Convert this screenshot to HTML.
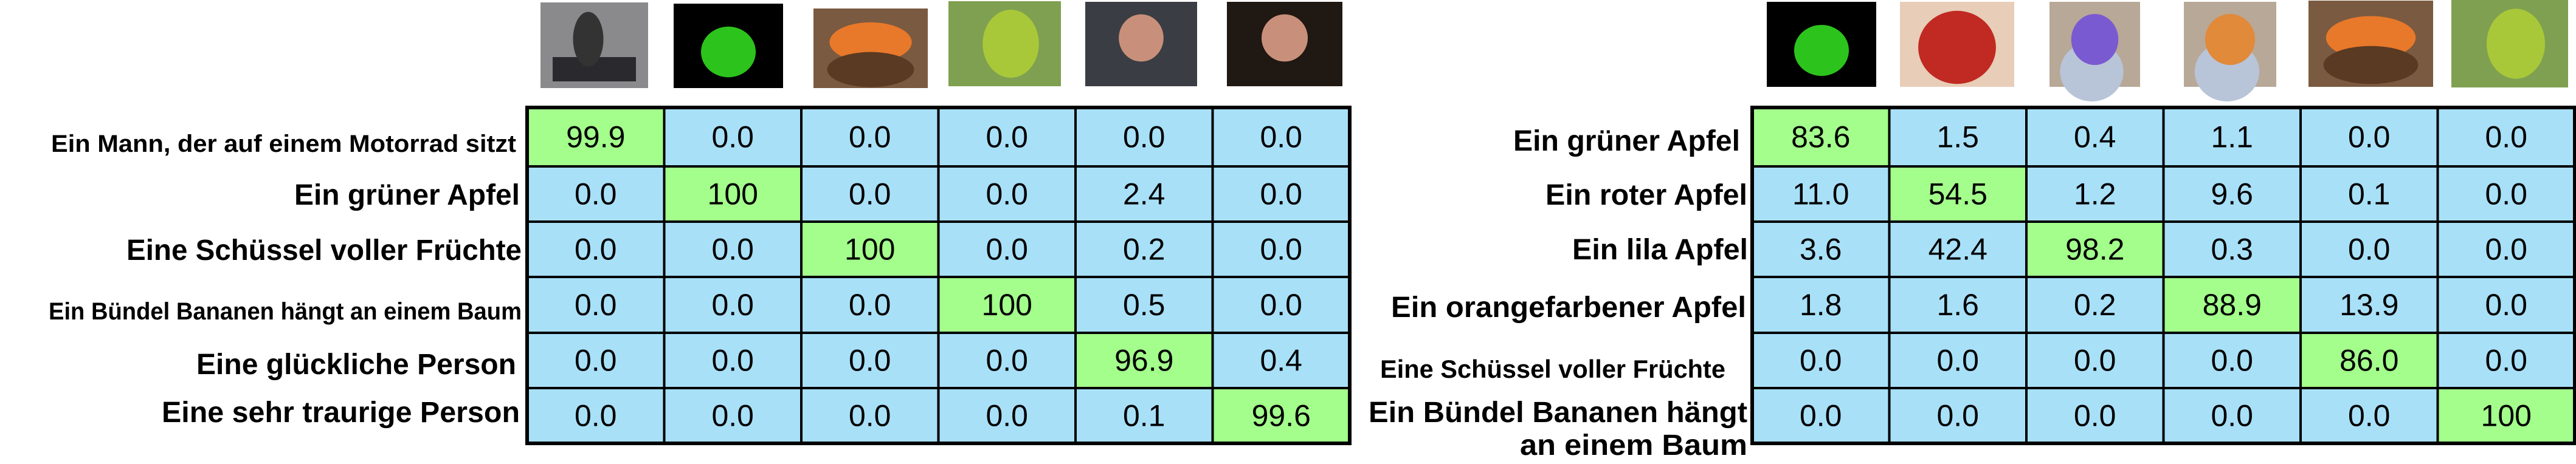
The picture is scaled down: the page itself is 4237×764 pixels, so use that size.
<!DOCTYPE html>
<html><head><meta charset="utf-8"><style>
html,body{margin:0;padding:0;background:#fff;width:4237px;height:764px;overflow:hidden}
svg{display:block}
text{font-family:"Liberation Sans Narrow","Liberation Sans",sans-serif}
</style></head><body>
<svg id="chart" width="4237" height="764" viewBox="0 0 4237 764" xmlns="http://www.w3.org/2000/svg"></svg>
<script>
const leftLabels = ["Ein Mann, der auf einem Motorrad sitzt","Ein grüner Apfel","Eine Schüssel voller Früchte","Ein Bündel Bananen hängt an einem Baum","Eine glückliche Person","Eine sehr traurige Person"];
const leftImages = ["motorcycle","green-apple","fruit-bowl","bananas","happy-woman","sad-woman"];
const leftValues = [
 ["99.9","0.0","0.0","0.0","0.0","0.0"],
 ["0.0","100","0.0","0.0","2.4","0.0"],
 ["0.0","0.0","100","0.0","0.2","0.0"],
 ["0.0","0.0","0.0","100","0.5","0.0"],
 ["0.0","0.0","0.0","0.0","96.9","0.4"],
 ["0.0","0.0","0.0","0.0","0.1","99.6"]];
const rightLabels = ["Ein grüner Apfel","Ein roter Apfel","Ein lila Apfel","Ein orangefarbener Apfel","Eine Schüssel voller Früchte","Ein Bündel Bananen hängt|an einem Baum"];
const rightImages = ["green-apple","red-apple","purple-apple","orange-apple","fruit-bowl","bananas"];
const rightValues = [
 ["83.6","1.5","0.4","1.1","0.0","0.0"],
 ["11.0","54.5","1.2","9.6","0.1","0.0"],
 ["3.6","42.4","98.2","0.3","0.0","0.0"],
 ["1.8","1.6","0.2","88.9","13.9","0.0"],
 ["0.0","0.0","0.0","0.0","86.0","0.0"],
 ["0.0","0.0","0.0","0.0","0.0","100"]];

const NS="http://www.w3.org/2000/svg";
const svg=document.getElementById('chart');
function mk(tag,attrs,parent){const e=document.createElementNS(NS,tag);for(const k in attrs)e.setAttribute(k,attrs[k]);(parent||svg).appendChild(e);return e;}

const rowEdges=[177,274,365,456,548,639,730];
const colW=225.5;
const GREEN="#a3fe8b", BLUE="#a8e0f8";

const leftLabelLayout=[[849,250,40,765],[855,337,48,371],[858,428,48,650],[858,526,40,778],[849,616,48,526],[855,695,48,589]];
const rightLabelLayout=[[2862,248,48,373],[2874,337,48,332],[2875,427,48,289],[2872,522,48,584],[2838,622,42,568],[2874,695,48,623]];

const imgBoxes={
 left:[[889,4,177,141],[1108,6,180,139],[1338,14,188,131],[1560,2,185,140],[1785,3,184,139],[2018,3,190,139]],
 right:[[2906,3,180,140],[3125,3,188,140],[3371,3,149,140],[3592,3,152,140],[3797,1,205,142],[4032,0,192,144]]
};

function drawImage(kind,b){
  const g=mk('g',{});
  
  
  const [x,y,w,h]=b;
  const bgs={"motorcycle":"#8a8a8c","green-apple":"#000","fruit-bowl":"#7a5a40","bananas":"#7fa050","happy-woman":"#3a3d44","sad-woman":"#201812","red-apple":"#e8cdb8","purple-apple":"#b8a898","orange-apple":"#b8a898"};
  mk('rect',{x,y,width:w,height:h,fill:bgs[kind]},g);
  const cx=x+w/2, cy=y+h/2;
  if(kind==="green-apple") mk('ellipse',{cx,cy:cy+10,rx:w*0.25,ry:h*0.3,fill:"#2cc41c"},g);
  if(kind==="red-apple") mk('ellipse',{cx,cy:cy+5,rx:w*0.34,ry:h*0.43,fill:"#c02a22"},g);
  if(kind==="purple-apple"){mk('ellipse',{cx:cx-5,cy:cy+45,rx:w*0.35,ry:h*0.35,fill:"#b8c4d8"},g);mk('ellipse',{cx,cy:cy-8,rx:w*0.26,ry:h*0.3,fill:"#7a5ad0"},g);}
  if(kind==="orange-apple"){mk('ellipse',{cx:cx-5,cy:cy+45,rx:w*0.35,ry:h*0.35,fill:"#b8c4d8"},g);mk('ellipse',{cx,cy:cy-8,rx:w*0.27,ry:h*0.3,fill:"#e08a3a"},g);}
  if(kind==="fruit-bowl"){mk('ellipse',{cx,cy:cy-10,rx:w*0.36,ry:h*0.25,fill:"#e8782a"},g);mk('ellipse',{cx,cy:cy+35,rx:w*0.38,ry:h*0.22,fill:"#5a3a22"},g);}
  if(kind==="bananas") mk('ellipse',{cx:cx+10,cy,rx:w*0.25,ry:h*0.4,fill:"#a8c83a"},g);
  if(kind==="motorcycle"){mk('rect',{x:x+20,y:y+90,width:w-40,height:40,fill:"#2a2a2e"},g);mk('ellipse',{cx:cx-10,cy:cy-10,rx:25,ry:45,fill:"#333"},g);}
  if(kind==="happy-woman"||kind==="sad-woman"){mk('ellipse',{cx,cy:cy-10,rx:w*0.2,ry:h*0.28,fill:"#c8907a"},g);}
}

function drawTable(side,x0,labels,values,layout,images){
  const tg=mk('g',{});
  
  
  const ncol=values[0].length;
  const colMax=[];
  for(let c=0;c<ncol;c++){let m=-1,mi=0;for(let r=0;r<values.length;r++){const v=parseFloat(values[r][c]);if(v>m){m=v;mi=r;}}colMax.push(mi);}
  for(let r=0;r<values.length;r++){
    for(let c=0;c<ncol;c++){
      const x=x0+c*colW, y=rowEdges[r], h=rowEdges[r+1]-rowEdges[r];
      const cell=mk('rect',{x,y,width:colW,height:h,fill:colMax[c]===r?GREEN:BLUE,stroke:"#000","stroke-width":4},tg);
      
      
      const t=mk('text',{x:x+colW/2,y:y+h/2+17,"font-size":50,"text-anchor":"middle",fill:"#000","font-family":"Liberation Sans, sans-serif"},tg);
      t.textContent=values[r][c];
      
      
    }
  }
  const border=mk('rect',{x:x0,y:rowEdges[0],width:colW*ncol,height:rowEdges[rowEdges.length-1]-rowEdges[0],fill:"none",stroke:"#000","stroke-width":6},tg);
  
  
  labels.forEach((lab,i)=>{
    const [rx,by,fs,w]=layout[i];
    const parts=lab.split('|');
    const t=mk('text',{x:rx-w,y:by,"font-size":fs,"font-weight":"bold",textLength:w,lengthAdjust:"spacingAndGlyphs",fill:"#000"},tg);
    t.textContent=parts[0];
    
    
    if(parts[1]){
      const t2=mk('text',{x:2500,y:749,"font-size":fs,"font-weight":"bold",textLength:374,lengthAdjust:"spacingAndGlyphs",fill:"#000"},tg);
      t2.textContent=parts[1];
      
      
    }
  });
  images.forEach((k,i)=>drawImage(k,imgBoxes[side][i]));
}
drawTable('left',867,leftLabels,leftValues,leftLabelLayout,leftImages);
drawTable('right',2882,rightLabels,rightValues,rightLabelLayout,rightImages);
</script>
</body></html>
